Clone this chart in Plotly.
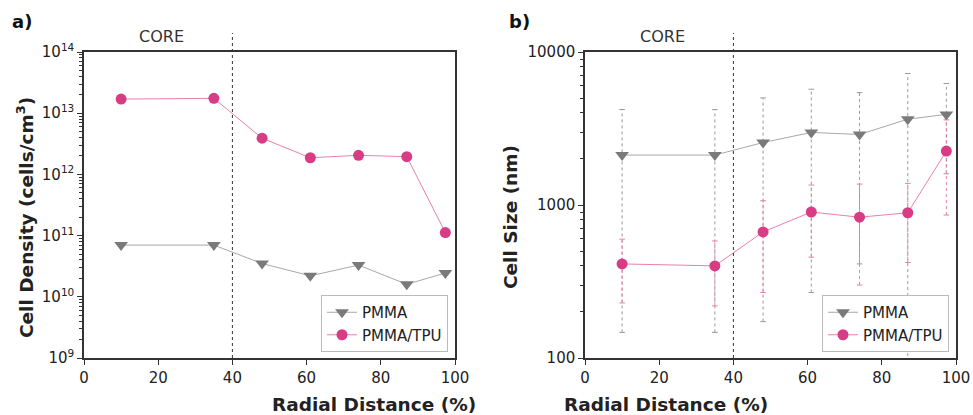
import plotly.graph_objects as go

# ---------------- data ----------------
x_pos = [10, 35, 48, 61, 74, 87, 97.4]

density_pmma = [7.0e10, 7.0e10, 3.5e10, 2.2e10, 3.3e10, 1.6e10, 2.45e10]
density_tpu = [1.7e13, 1.75e13, 3.9e12, 1.87e12, 2.05e12, 1.95e12, 1.12e11]

size_pmma = [2120, 2120, 2560, 2980, 2890, 3640, 3910]
size_pmma_err_plus = [2090, 2080, 2450, 2730, 2540, 3590, 2310]
size_pmma_err_minus = [1973, 1973, 2387, 2712, 2478, 3590, 2310]
size_tpu = [412, 400, 667, 900, 832, 890, 2250]
size_tpu_err_plus = [186, 182, 400, 450, 538, 495, 1350]
size_tpu_err_minus = [183, 181, 399, 444, 532, 469, 1390]

dens_tickvals = [1e9, 1e10, 1e11, 1e12, 1e13, 1e14]
dens_ticktext = ["10<sup>9</sup>", "10<sup>10</sup>", "10<sup>11</sup>", "10<sup>12</sup>",
                 "10<sup>13</sup>", "10<sup>14</sup>"]
size_tickvals = [100, 1000, 10000]
size_ticktext = ["100", "1000", "10000"]
x_tickvals = [0, 20, 40, 60, 80, 100]

core_boundary = 40
core_label_x = 20.8

# ---------------- styles ----------------
GRAY_M = "#7a7a7a"
GRAY_L = "#a8a8a8"
PINK_M = "#d83c84"
PINK_L = "#ea7fab"
FONT = "DejaVu Sans, Verdana, sans-serif"
W, H = 973, 415

fig = go.Figure()


def err_segments(xs, ys, ep, em):
    ex, ey = [], []
    for xv, yv, p, m in zip(xs, ys, ep, em):
        ex += [xv, xv, None]
        ey += [max(yv - m, 1e-9), yv + p, None]
    return ex, ey


# error bars (right panel)
for ys, ep, em, col in [(size_pmma, size_pmma_err_plus, size_pmma_err_minus, "#9a9a9a"),
                        (size_tpu, size_tpu_err_plus, size_tpu_err_minus, PINK_L)]:
    ex, ey = err_segments(x_pos, ys, ep, em)
    fig.add_trace(go.Scatter(x=ex, y=ey, mode="lines+markers", xaxis="x2", yaxis="y2",
                             line=dict(color=col, width=1, dash="dot"),
                             marker=dict(symbol="line-ew-open", size=4, color=col,
                                         line=dict(width=1, color=col)),
                             showlegend=False, hoverinfo="skip"))

# left panel
fig.add_trace(go.Scatter(x=x_pos, y=density_pmma, mode="lines+markers", name="PMMA",
                         line=dict(color=GRAY_L, width=1),
                         marker=dict(symbol="triangle-down", size=12, color=GRAY_M),
                         xaxis="x", yaxis="y", legend="legend"))
fig.add_trace(go.Scatter(x=x_pos, y=density_tpu, mode="lines+markers", name="PMMA/TPU",
                         line=dict(color=PINK_L, width=1),
                         marker=dict(symbol="circle", size=11, color=PINK_M),
                         xaxis="x", yaxis="y", legend="legend"))
# right panel
fig.add_trace(go.Scatter(x=x_pos, y=size_pmma, mode="lines+markers", name="PMMA",
                         line=dict(color=GRAY_L, width=1),
                         marker=dict(symbol="triangle-down", size=12, color=GRAY_M),
                         xaxis="x2", yaxis="y2", legend="legend2"))
fig.add_trace(go.Scatter(x=x_pos, y=size_tpu, mode="lines+markers", name="PMMA/TPU",
                         line=dict(color=PINK_L, width=1),
                         marker=dict(symbol="circle", size=11, color=PINK_M),
                         xaxis="x2", yaxis="y2", legend="legend2"))

ydom = [1 - 358 / H, 1 - 52 / H]
axis_common = dict(showline=True, linecolor="#333", linewidth=1.5, mirror=True,
                   ticks="outside", ticklen=5, tickcolor="#333", showgrid=False,
                   zeroline=False, automargin=False,
                   tickfont=dict(size=15, color="#222", family=FONT))

dens_minor = [m * 10 ** e for e in range(9, 14) for m in range(2, 10)]
size_minor = [m * 10 ** e for e in range(2, 4) for m in range(2, 10)]

legend_common = dict(xanchor="right", yanchor="bottom", bordercolor="#bbb", borderwidth=1,
                     bgcolor="white", font=dict(size=15, color="#222", family=FONT),
                     tracegroupgap=0, itemwidth=30)

fig.update_layout(
    width=W, height=H,
    margin=dict(l=0, r=0, t=0, b=0, autoexpand=False),
    paper_bgcolor="white", plot_bgcolor="white",
    font=dict(family=FONT),
    xaxis=dict(domain=[84 / W, 455 / W], range=[0, 100], tickvals=x_tickvals,
               anchor="y", **axis_common),
    yaxis=dict(domain=ydom, type="log", range=[9, 14], tickvals=dens_tickvals,
               ticktext=dens_ticktext, anchor="x",
               minor=dict(tickvals=dens_minor, ticks="outside", ticklen=3, tickcolor="#333"),
               **axis_common),
    xaxis2=dict(domain=[585 / W, 956 / W], range=[0, 100], tickvals=x_tickvals,
                anchor="y2", **axis_common),
    yaxis2=dict(domain=ydom, type="log", range=[2, 4], tickvals=size_tickvals,
                ticktext=size_ticktext, anchor="x2",
                minor=dict(tickvals=size_minor, ticks="outside", ticklen=3, tickcolor="#333"),
                **axis_common),
    legend=dict(x=448 / W, y=1 - 352 / H, **legend_common),
    legend2=dict(x=949 / W, y=1 - 352 / H, **legend_common),
    showlegend=True,
)

# core boundary lines
for xr, yr in [("x", "y domain"), ("x2", "y2 domain")]:
    fig.add_shape(type="line", xref=xr, yref=yr, x0=core_boundary, x1=core_boundary,
                  y0=0, y1=(358 - 33) / 306, line=dict(color="#333", width=1, dash="dot"))

# CORE labels
for xr in ["x", "x2"]:
    fig.add_annotation(x=core_label_x, xref=xr, y=1 - 36 / H, yref="paper", text="CORE",
                       showarrow=False, yanchor="middle",
                       font=dict(size=16, color="#333", family=FONT))

# axis titles
TFONT = dict(size=18.5, color="#222", family=FONT)
fig.add_annotation(x=269.5 / W, y=1 - 404 / H, xref="paper", yref="paper",
                   text="<b>Radial Distance (%)</b>", showarrow=False, yanchor="middle", font=TFONT)
fig.add_annotation(x=770 / W, y=1 - 404 / H, xref="paper", yref="paper",
                   text="<b>Radial Distance (%)</b>", showarrow=False, yanchor="middle", font=TFONT)
fig.add_annotation(x=25 / W, y=1 - 218 / H, xref="paper", yref="paper", textangle=-90,
                   text="<b>Cell Density (cells/cm<sup>3</sup>)</b>", showarrow=False,
                   xanchor="center", yanchor="middle", font=TFONT)
fig.add_annotation(x=510 / W, y=1 - 217 / H, xref="paper", yref="paper", textangle=-90,
                   text="<b>Cell Size (nm)</b>", showarrow=False,
                   xanchor="center", yanchor="middle", font=TFONT)

# panel letters
fig.add_annotation(x=10 / W, y=1 - 21 / H, xref="paper", yref="paper", text="<b>a)</b>",
                   showarrow=False, xanchor="left", yanchor="middle",
                   font=dict(size=18, color="#111", family=FONT))
fig.add_annotation(x=507 / W, y=1 - 21 / H, xref="paper", yref="paper", text="<b>b)</b>",
                   showarrow=False, xanchor="left", yanchor="middle",
                   font=dict(size=18, color="#111", family=FONT))

fig.write_html("out.html", config={"displayModeBar": False},
               post_script="document.body.style.margin='0';document.body.style.overflow='hidden';")
